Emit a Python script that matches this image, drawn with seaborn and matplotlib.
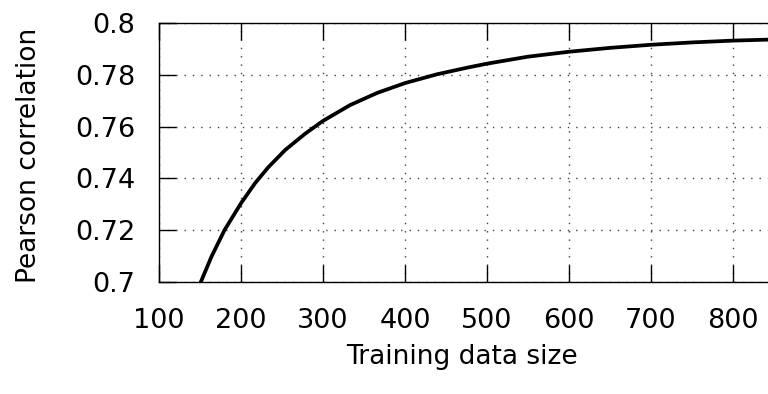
import matplotlib
matplotlib.use("Agg")
import matplotlib.pyplot as plt
import seaborn as sns
import pandas as pd

# Values
train_size = [151, 164, 180, 200, 217, 233, 254, 278, 300, 333, 366, 400,
              439, 475, 500, 550, 600, 650, 700, 750, 800, 845]
pearson = [0.7000, 0.7098, 0.7201, 0.7304, 0.7381, 0.7442, 0.7510, 0.7572,
           0.7622, 0.7683, 0.7730, 0.7768, 0.7802, 0.7827, 0.7843, 0.7870,
           0.7889, 0.7904, 0.7916, 0.7925, 0.7932, 0.7936]
x_ticks = [100, 200, 300, 400, 500, 600, 700, 800]
y_ticks = [0.70, 0.72, 0.74, 0.76, 0.78, 0.80]
y_tick_labels = ["0.7", "0.72", "0.74", "0.76", "0.78", "0.8"]

sns.set_theme(style="white")
plt.rcParams["font.family"] = ["DejaVu Sans"]

df = pd.DataFrame({"size": train_size, "r": pearson})

fig = plt.figure(figsize=(7.68, 3.94), dpi=100)
ax = fig.add_axes([159 / 768, 112 / 394, 609 / 768, 259 / 394])

sns.lineplot(data=df, x="size", y="r", color="black", linewidth=2.7,
             ax=ax, estimator=None, sort=False)

ax.set_xlim(100, 100 + 609 / 0.82)
ax.set_ylim(0.70, 0.80)
ax.set_xticks(x_ticks)
ax.set_xticklabels([str(t) for t in x_ticks])
ax.set_yticks(y_ticks)
ax.set_yticklabels(y_tick_labels)

ax.grid(True, color="black", alpha=0.75, linestyle=(0, (1, 5)), linewidth=1.0)

for side in ["left", "bottom", "top"]:
    ax.spines[side].set_visible(True)
    ax.spines[side].set_color("black")
    ax.spines[side].set_linewidth(1.0)
ax.spines["right"].set_visible(False)

ax.tick_params(axis="both", which="major", direction="in", length=12,
               width=1.0, color="black", labelsize=19.5, labelcolor="black")
ax.tick_params(axis="x", top=True, bottom=True, pad=19)
ax.tick_params(axis="y", left=True, right=False, pad=17)

ax.set_xlabel("Training data size", fontsize=19, color="black")
ax.xaxis.set_label_coords((462 - 159) / 609, -82 / 259)
ax.xaxis.label.set_va("baseline")

ax.set_ylabel("Pearson correlation", fontsize=19, color="black")
ax.yaxis.set_label_coords((41.5 - 159) / 609, 0.49)

fig.savefig("out.png", dpi=100)
